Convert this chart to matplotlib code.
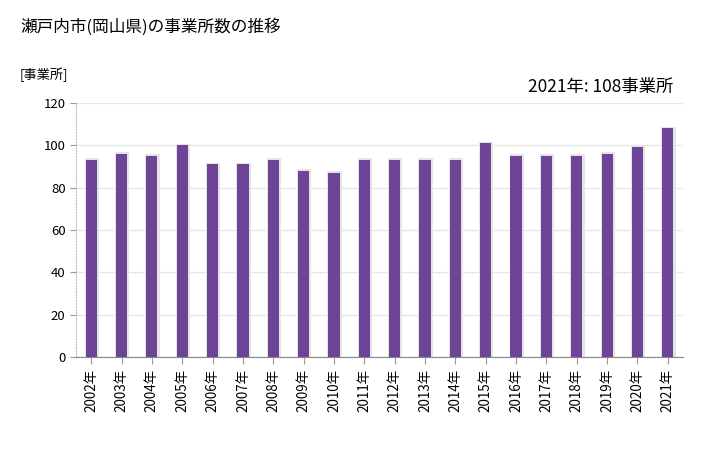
import matplotlib
matplotlib.use("Agg")
import matplotlib.pyplot as plt

plt.rcParams['font.family'] = ['Noto Sans CJK JP', 'DejaVu Sans']

years = ['2002年', '2003年', '2004年', '2005年', '2006年', '2007年', '2008年',
         '2009年', '2010年', '2011年', '2012年', '2013年', '2014年', '2015年',
         '2016年', '2017年', '2018年', '2019年', '2020年', '2021年']
counts = [93, 96, 95, 100, 91, 91, 93, 88, 87, 93, 93, 93, 93, 101,
          95, 95, 95, 96, 99, 108]

fig = plt.figure(figsize=(7.28, 4.5), dpi=100)
ax = fig.add_axes([76 / 728, 1 - 357 / 450, 607 / 728, 254 / 450])

x = list(range(len(years)))
# soft shadow round each bar
ax.bar([i + 0.02 for i in x], [c + 0.8 for c in counts], width=0.47,
       color='#e4e4e4', zorder=2)
ax.bar(x, counts, width=0.37, color='#6e4496', zorder=3)

ax.set_xlim(-0.5, len(years) - 0.5)
ax.set_ylim(0, 120)
ax.set_yticks(range(0, 121, 20))
ax.yaxis.grid(True, color='#e6e6e6', linewidth=1, zorder=0)
ax.set_xticks(x)
ax.set_xticklabels(years, rotation=90, fontsize=9.7)
ax.tick_params(axis='y', labelsize=9.5, length=4, color='#999999')
ax.tick_params(axis='x', length=5, color='#999999')

for s in ['top', 'right']:
    ax.spines[s].set_visible(False)
ax.spines['left'].set_color('#bbbbbb')
ax.spines['left'].set_linestyle(':')
ax.spines['bottom'].set_color('#888888')

fig.text(20 / 728, 1 - 27 / 450, '瀬戸内市(岡山県)の事業所数の推移', fontsize=12,
         va='center', ha='left')
fig.text(20 / 728, 1 - 75 / 450, '[事業所]', fontsize=9.5, va='center', ha='left')
fig.text(673 / 728, 1 - 87 / 450, '2021年: 108事業所', fontsize=12.5,
         va='center', ha='right')

fig.savefig('out.png', dpi=100)
